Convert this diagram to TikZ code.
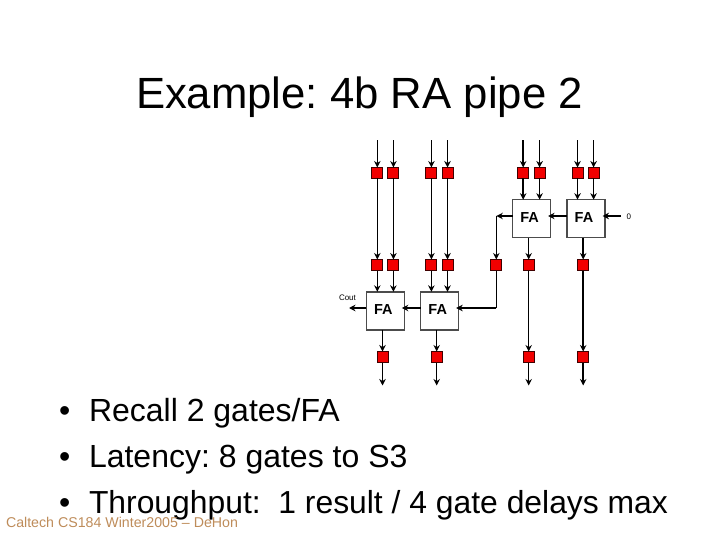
\documentclass[tikz,border=0pt]{standalone}
\usepackage{fontspec}
\setmainfont{Liberation Sans}
\usetikzlibrary{arrows.meta}
\definecolor{foot}{RGB}{190,140,90}
\frenchspacing
\newcommand{\falabel}{\hspace*{-4pt}\raisebox{3pt}{FA}}
\tikzset{
 reg/.style={draw=black!75!red,line width=1pt,fill=red!95!black,minimum size=11pt,inner sep=0pt,outer sep=0pt},
 fa/.style={draw=black!70,line width=1.4pt,fill=white,minimum size=38pt,inner sep=0pt,outer sep=0pt,font=\fontsize{14.5}{14.5}\selectfont\bfseries},
 wire/.style={line width=1.5pt,-{Stealth[length=6.5pt,width=6.5pt]}},
 inwire/.style={wire,shorten >=-2.5pt},
 txt/.style={inner sep=0pt,outer sep=0pt,anchor=base west},
 bul/.style={txt,font=\fontsize{32}{32}\selectfont}
}
\begin{document}
\begin{tikzpicture}[x=1pt,y=-1pt]
\useasboundingbox (0,0) rectangle (720,540);
\node[txt,font=\fontsize{43.7}{44}\selectfont] (title) at (136,109) {Example: 4b RA pipe 2};
% registers
\foreach \n/\x in {a/377.3,b/393.4,c/431.4,d/447.5,e/523.2,f/539.6,g/577.5,h/593.6}{
  \node[reg] (t\n) at (\x,173) {};
  \coordinate (i\n) at (\x,140.5);
}
\foreach \n/\x in {a/377.3,b/393.4,c/431.4,d/447.5,e/496.3,f/528.7,g/583.2}{
  \node[reg] (m\n) at (\x,265) {};
}
\foreach \n/\x in {a/382.5,b/436.7,c/528.7,d/583.2}{
  \node[reg] (b\n) at (\x,357) {};
  \coordinate (o\n) at (\x,385.5);
}
% full adders
\node[fa] (fa1) at (531.6,218.7) {\falabel};
\node[fa] (fa2) at (586,218.7) {\falabel};
\node[fa] (fa3) at (385.3,310.8) {\falabel};
\node[fa] (fa4) at (439.7,310.8) {\falabel};
\coordinate (cout) at (349,308);
\coordinate (corner) at (496.3,216);
\node[txt,font=\fontsize{8}{8}\selectfont] (coutl) at (339,300.5) {Cout};
\node[txt,font=\fontsize{8}{8}\selectfont] (zero) at (626.5,219) {0};
\coordinate (zin) at (620.7,216);
% input wires
\foreach \n in {a,b,c,d,e,f,g,h}{ \draw[wire] (i\n) -- (t\n); }
\foreach \n in {a,b,c,d}{ \draw[wire] (t\n) -- (m\n); }
\draw[wire] (te) -- (te |- fa1.north);
\draw[wire] (tf) -- (tf |- fa1.north);
\draw[wire] (tg) -- (tg |- fa2.north);
\draw[wire] (th) -- (th |- fa2.north);
% upper adders
\draw[inwire] (zin) -- (zin -| fa2.east);
\draw[inwire] (fa2.west |- zin) -- (fa1.east |- zin);
\draw[wire] (fa1.west |- zin) -- (corner);
\draw[wire] (corner) -- (me);
\draw[wire] (mf |- fa1.south) -- (mf);
\draw[wire] (mg |- fa2.south) -- (mg);
\draw[wire] (mf) -- (bc);
\draw[wire] (mg) -- (bd);
% lower adders
\draw[wire] (ma) -- (ma |- fa3.north);
\draw[wire] (mb) -- (mb |- fa3.north);
\draw[wire] (mc) -- (mc |- fa4.north);
\draw[wire] (md) -- (md |- fa4.north);
\draw[line width=1.5pt] (me) -- (me |- cout);
\draw[inwire] (me |- cout) -- (fa4.east |- cout);
\draw[inwire] (fa4.west |- cout) -- (fa3.east |- cout);
\draw[wire] (fa3.west |- cout) -- (cout);
\draw[wire] (ba |- fa3.south) -- (ba);
\draw[wire] (bb |- fa4.south) -- (bb);
\foreach \n in {a,b,c,d}{ \draw[wire] (b\n) -- (o\n); }
% text
\node[bul] (bu1) at (59,421) {•};
\node[bul] (li1) at (89,421) {Recall 2 gates/FA};
\node[bul] (bu2) at (59,467) {•};
\node[bul] (li2) at (89,467) {Latency: 8 gates to S3};
\node[bul] (bu3) at (59,513) {•};
\node[bul,font=\fontsize{31.85}{32}\selectfont] (li3) at (89,513) {Throughput:\ \ 1 result / 4 gate delays max};
\node[txt,font=\fontsize{14.2}{14}\selectfont,text=foot] (foot) at (6,527) {Caltech CS184 Winter2005 -- DeHon};
\end{tikzpicture}
\end{document}
